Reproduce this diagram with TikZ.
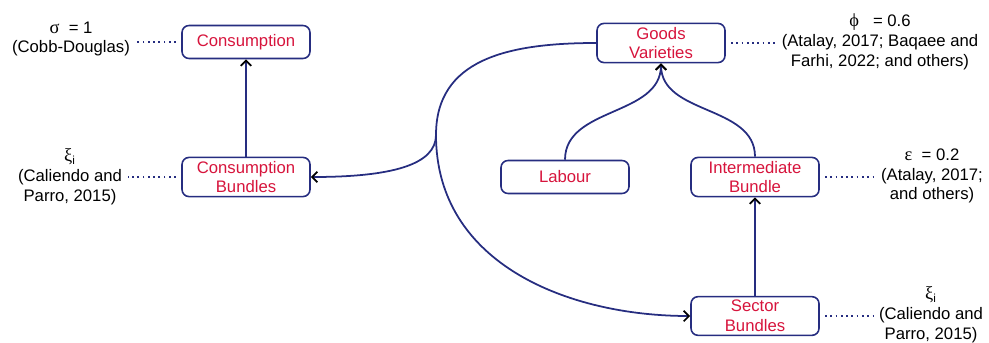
\documentclass[tikz,border=0pt]{standalone}
\usepackage{fontspec}
\setmainfont{Liberation Sans}
\newfontfamily\greekfont{Liberation Serif}
\usetikzlibrary{arrows.meta,positioning}
\definecolor{flowNavy}{HTML}{262D80}
\definecolor{flowRed}{HTML}{D7143C}
\newcommand{\notefont}{\fontsize{9.5}{11.3}\selectfont}
\newcommand{\gk}[1]{{\greekfont\fontsize{10.5}{11.3}\selectfont #1}}

\begin{document}
\begin{tikzpicture}[x=0.02cm,y=0.02cm,
    box/.style={draw=flowNavy,line width=0.9pt,rounded corners=4pt,fill=white,text=flowRed,
      font=\notefont,align=center,minimum width=2.56cm,minimum height=0.66cm,inner sep=2pt},
    note/.style={font=\notefont,align=center,inner sep=0pt},
    link/.style={draw=flowNavy,line width=1pt,-{Straight Barb[black,length=3pt,width=6pt]}},
    tie/.style={draw=flowNavy,line width=1pt,dotted,shorten <=3pt,shorten >=3pt}]
  \useasboundingbox (0,0) rectangle (989,342);
  % nests of the production / consumption tree
  \node[box] (cons) at (246,300) {Consumption};
  \node[box] (cbun) at (246,165) {Consumption\\Bundles};
  \node[box] (goods) at (661,299) {Goods\\Varieties};
  \node[box] (labour) at (565,165) {Labour};
  \node[box] (inter) at (755,165) {Intermediate\\Bundle};
  \node[box] (sbun) at (755,26) {Sector\\Bundles};
  % elasticities
  \node[note] (sigma) at (71,303) {\gk{σ}\ \ = 1\\(Cobb-Douglas)};
  \node[note] (xileft) at (70,165) {\gk{ξ}\textsubscript{i}\\(Caliendo and\\Parro, 2015)};
  \node[note] (phi) at (880,300) {\gk{ϕ}\ \ \ = 0.6\\(Atalay, 2017; Baqaee and\\Farhi, 2022; and others)};
  \node[note] (eps) at (932,166) {\gk{ε}\ \ = 0.2\\(Atalay, 2017;\\and others)};
  \node[note] (xiright) at (931,27) {\gk{ξ}\textsubscript{i}\\(Caliendo and\\Parro, 2015)};
  \coordinate (split) at (436,207);
  % flows
  \draw[link] (cbun) -- (cons);
  \draw[link] (sbun) -- (inter);
  \draw[link] (labour.north) to[out=90,in=-90] (goods.south);
  \draw[link] (inter.north) to[out=90,in=-90] (goods.south);
  \draw[flowNavy,line width=1pt] (goods.west) to[out=180,in=90,out distance=1.8cm,in distance=1.5cm] (split);
  \draw[link] (split) to[out=-90,in=0,out distance=0.6cm,in distance=1.6cm] (cbun.east);
  \draw[link] (split) to[out=-90,in=180,out distance=2.6cm,in distance=2.4cm] (sbun.west);
  % dotted ties to the notes
  \draw[tie] (cons.west) -- (sigma.east |- cons.west);
  \draw[tie] (cbun.west) -- (xileft.east |- cbun.west);
  \draw[tie] (goods.east) -- (phi.west |- goods.east);
  \draw[tie] (inter.east) -- (eps.west |- inter.east);
  \draw[tie] (sbun.east) -- (xiright.west |- sbun.east);
\end{tikzpicture}
\end{document}
